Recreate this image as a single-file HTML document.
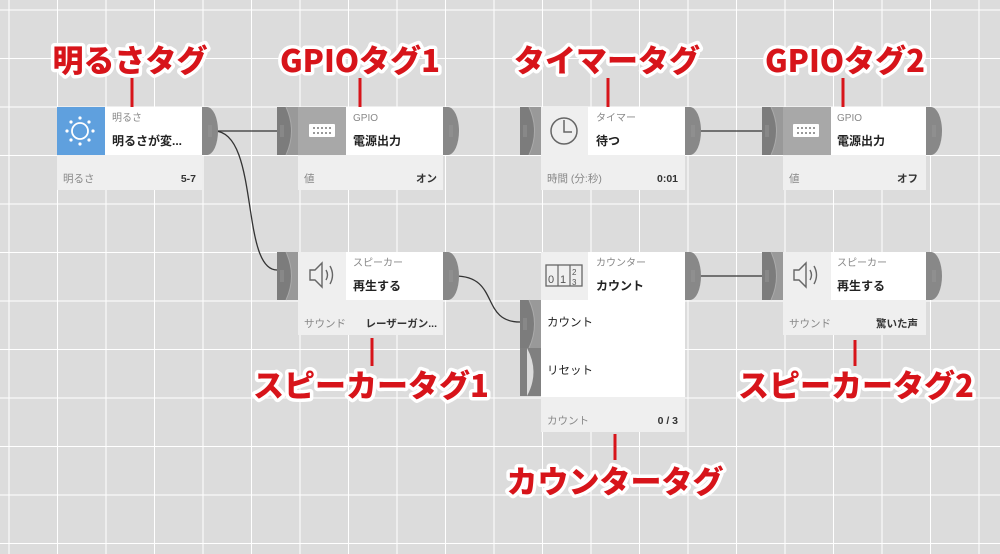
<!DOCTYPE html>
<html><head><meta charset="utf-8"><style>
html,body{margin:0;padding:0;background:#dcdcdc;}
svg{display:block;font-family:"Liberation Sans","Noto Sans CJK JP",sans-serif;}
.s{font-size:10px;fill:#888}
.b{font-size:12px;font-weight:bold;fill:#222}
.f{font-size:10.5px;fill:#888}
.fv{font-size:10.5px;font-weight:bold;fill:#333}
.tag{font-size:31px;font-weight:900;fill:#d7141a;stroke:#fff;stroke-width:7px;paint-order:stroke;stroke-linejoin:round;font-family:"Noto Sans CJK JP","Liberation Sans",sans-serif}
</style></head><body>
<svg width="1000" height="554" viewBox="0 0 1000 554" xmlns="http://www.w3.org/2000/svg">
<defs>
<pattern id="g" x="8.5" y="9.5" width="48.5" height="48.5" patternUnits="userSpaceOnUse">
<path d="M0 0V48.5M0 0H48.5" stroke="#fff" stroke-width="2" fill="none"/>
</pattern>
<g id="outc"><rect x="0" y="0" width="5" height="48" fill="#888"/><path d="M5 0 A11 24 0 0 1 5 48Z" fill="#888"/><path d="M7 18V30M9 18V30" stroke="#9a9a9a" stroke-width="0.8"/></g>
<g id="inc"><rect x="0" y="0" width="21" height="48" fill="#7c7c7c"/><path d="M9 0 Q20 24 9 48 H21 V0Z" fill="#999"/><path d="M9 0 Q20 24 9 48" stroke="#aaa" fill="none"/><path d="M4 18V30M6 18V30" stroke="#999" stroke-width="0.8"/></g>
</defs>
<rect width="1000" height="554" fill="#dcdcdc"/>
<rect width="1000" height="554" fill="url(#g)"/>

<g stroke="#333" stroke-width="1.3" fill="none">
<path d="M214 131H277"/>
<path d="M214 131C260 131 240 270 277 270"/>
<path d="M455 276C500 276 480 322 520 322"/>
<path d="M696 131H762"/>
<path d="M696 276H762"/>
</g>

<!-- Node 1 -->
<rect x="57" y="107" width="145" height="83" fill="#efefef"/>
<rect x="57" y="107" width="48" height="48" fill="#5fa0de"/>
<rect x="105" y="107" width="97" height="48" fill="#fff"/>
<g fill="#fff"><circle cx="80" cy="131" r="8" fill="none" stroke="#fff" stroke-width="1.8"/>
<circle cx="80" cy="118" r="1.6"/><circle cx="80" cy="144" r="1.6"/><circle cx="67" cy="131" r="1.6"/><circle cx="93" cy="131" r="1.6"/>
<circle cx="71" cy="122" r="1.6"/><circle cx="89" cy="122" r="1.6"/><circle cx="71" cy="140" r="1.6"/><circle cx="89" cy="140" r="1.6"/></g>
<text x="112" y="121" class="s">明るさ</text>
<text x="112" y="145" class="b">明るさが変...</text>
<text x="63" y="182" class="f">明るさ</text>
<text x="196" y="182" class="fv" text-anchor="end">5-7</text>
<use href="#outc" x="202" y="107"/>

<!-- GPIO 1 -->
<use href="#inc" x="277" y="107"/>
<rect x="298" y="107" width="145" height="83" fill="#efefef"/>
<rect x="298" y="107" width="48" height="48" fill="#a8a8a8"/>
<rect x="346" y="107" width="97" height="48" fill="#fff"/>
<rect x="309" y="124" width="26" height="13" fill="#fff" rx="1"/>
<g fill="#999"><rect x="313" y="127" width="2" height="2"/><rect x="317" y="127" width="2" height="2"/><rect x="321" y="127" width="2" height="2"/><rect x="325" y="127" width="2" height="2"/><rect x="329" y="127" width="2" height="2"/><rect x="313" y="132" width="2" height="2"/><rect x="317" y="132" width="2" height="2"/><rect x="321" y="132" width="2" height="2"/><rect x="325" y="132" width="2" height="2"/><rect x="329" y="132" width="2" height="2"/></g>
<text x="353" y="121" class="s">GPIO</text>
<text x="353" y="145" class="b">電源出力</text>
<text x="304" y="182" class="f">値</text>
<text x="437" y="182" class="fv" text-anchor="end">オン</text>
<use href="#outc" x="443" y="107"/>

<!-- Timer -->
<use href="#inc" x="520" y="107"/>
<rect x="541" y="107" width="144" height="83" fill="#efefef"/>
<rect x="588" y="107" width="97" height="48" fill="#fff"/>
<circle cx="564" cy="131" r="13" fill="none" stroke="#666" stroke-width="1.5"/>
<path d="M564 120V132H572" stroke="#666" stroke-width="1.5" fill="none"/>
<text x="596" y="121" class="s">タイマー</text>
<text x="596" y="145" class="b">待つ</text>
<text x="547" y="182" class="f">時間 (分:秒)</text>
<text x="678" y="182" class="fv" text-anchor="end">0:01</text>
<use href="#outc" x="685" y="107"/>

<!-- GPIO 2 -->
<use href="#inc" x="762" y="107"/>
<rect x="783" y="107" width="143" height="83" fill="#efefef"/>
<rect x="783" y="107" width="48" height="48" fill="#a8a8a8"/>
<rect x="831" y="107" width="95" height="48" fill="#fff"/>
<rect x="793" y="124" width="26" height="13" fill="#fff" rx="1"/>
<g fill="#999"><rect x="797" y="127" width="2" height="2"/><rect x="801" y="127" width="2" height="2"/><rect x="805" y="127" width="2" height="2"/><rect x="809" y="127" width="2" height="2"/><rect x="813" y="127" width="2" height="2"/><rect x="797" y="132" width="2" height="2"/><rect x="801" y="132" width="2" height="2"/><rect x="805" y="132" width="2" height="2"/><rect x="809" y="132" width="2" height="2"/><rect x="813" y="132" width="2" height="2"/></g>
<text x="837" y="121" class="s">GPIO</text>
<text x="837" y="145" class="b">電源出力</text>
<text x="789" y="182" class="f">値</text>
<text x="918" y="182" class="fv" text-anchor="end">オフ</text>
<use href="#outc" x="926" y="107"/>

<!-- Speaker 1 -->
<use href="#inc" x="277" y="252"/>
<rect x="298" y="252" width="145" height="83" fill="#efefef"/>
<rect x="346" y="252" width="97" height="48" fill="#fff"/>
<path d="M310 270H315L322 263V287L315 280H310Z" fill="none" stroke="#666" stroke-width="1.4"/>
<path d="M326 270Q329 275 326 280M330 266Q335 275 330 284" stroke="#666" stroke-width="1.4" fill="none"/>
<text x="353" y="266" class="s">スピーカー</text>
<text x="353" y="290" class="b">再生する</text>
<text x="304" y="327" class="f">サウンド</text>
<text x="437" y="327" class="fv" text-anchor="end">レーザーガン...</text>
<use href="#outc" x="443" y="252"/>

<!-- Counter -->
<use href="#inc" x="520" y="300"/>
<g><rect x="520" y="348" width="21" height="48" fill="#808080"/><path d="M527 348 Q540 372 527 396 V348Z" fill="#dcdcdc"/></g>
<rect x="541" y="252" width="144" height="180" fill="#fff"/>
<rect x="541" y="252" width="47" height="48" fill="#efefef"/>
<rect x="541" y="397" width="144" height="35" fill="#efefef"/>
<rect x="546" y="265" width="36" height="21" fill="none" stroke="#666" stroke-width="1.3"/>
<path d="M558 265V286M570 265V286" stroke="#666" stroke-width="1.2"/>
<text x="548" y="283" font-size="11" fill="#555">0</text><text x="560" y="283" font-size="11" fill="#555">1</text>
<text x="572" y="275" font-size="8" fill="#555">2</text><text x="572" y="285" font-size="8" fill="#555">3</text>
<text x="596" y="266" class="s">カウンター</text>
<text x="596" y="290" class="b">カウント</text>
<text x="547" y="326" font-size="11.5" fill="#222">カウント</text>
<text x="547" y="374" font-size="11.5" fill="#222">リセット</text>
<text x="547" y="424" class="f">カウント</text>
<text x="678" y="424" class="fv" text-anchor="end">0 / 3</text>
<use href="#outc" x="685" y="252"/>

<!-- Speaker 2 -->
<use href="#inc" x="762" y="252"/>
<rect x="783" y="252" width="143" height="83" fill="#efefef"/>
<rect x="831" y="252" width="95" height="48" fill="#fff"/>
<path d="M794 270H799L806 263V287L799 280H794Z" fill="none" stroke="#666" stroke-width="1.4"/>
<path d="M810 270Q813 275 810 280M814 266Q819 275 814 284" stroke="#666" stroke-width="1.4" fill="none"/>
<text x="837" y="266" class="s">スピーカー</text>
<text x="837" y="290" class="b">再生する</text>
<text x="789" y="327" class="f">サウンド</text>
<text x="918" y="327" class="fv" text-anchor="end">驚いた声</text>
<use href="#outc" x="926" y="252"/>

<g stroke="#d7141a" stroke-width="3">
<path d="M132 78V107"/><path d="M360 78V107"/><path d="M608 78V107"/><path d="M843 78V107"/>
<path d="M372 338V366"/><path d="M855 340V366"/><path d="M615 434V460"/>
</g>
<text x="130" y="72" class="tag" text-anchor="middle">明るさタグ</text>
<text x="360" y="72" class="tag" text-anchor="middle">GPIOタグ1</text>
<text x="607" y="72" class="tag" text-anchor="middle">タイマータグ</text>
<text x="845" y="72" class="tag" text-anchor="middle">GPIOタグ2</text>
<text x="371" y="397" class="tag" text-anchor="middle">スピーカータグ1</text>
<text x="856" y="397" class="tag" text-anchor="middle">スピーカータグ2</text>
<text x="615" y="493" class="tag" text-anchor="middle">カウンタータグ</text>
</svg>
</body></html>
